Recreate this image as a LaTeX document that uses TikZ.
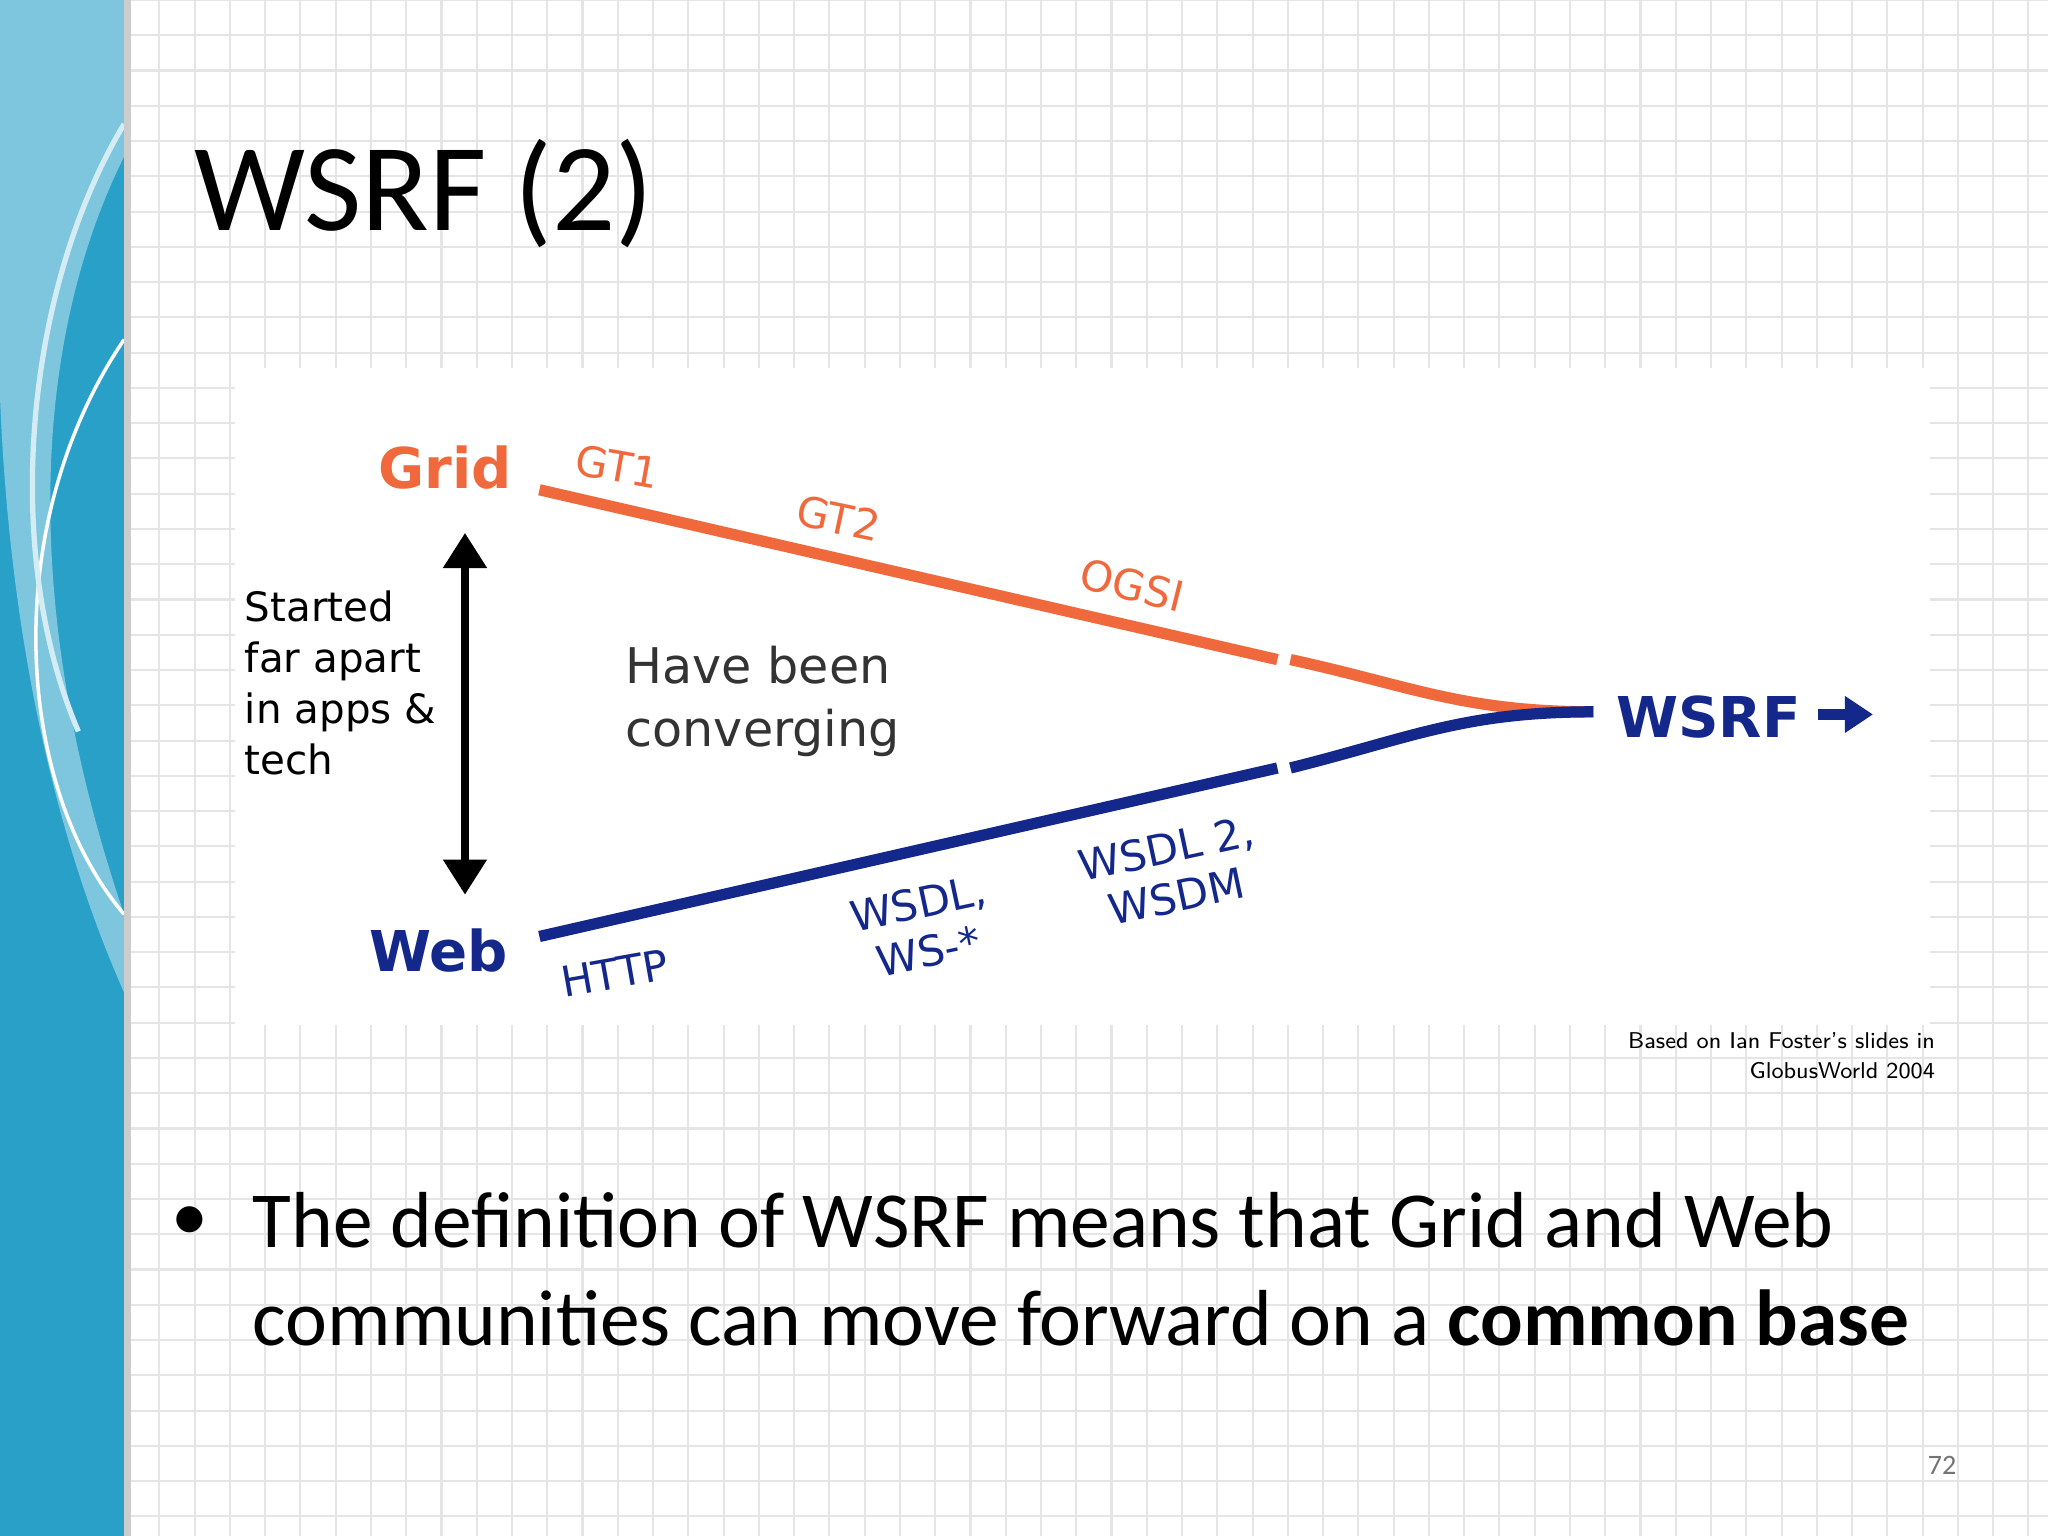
\documentclass[tikz,border=0pt]{standalone}
\usepackage{fontspec}
\setmainfont{Carlito}
\newfontfamily\vf{DejaVu Sans}
\usetikzlibrary{arrows.meta}
\definecolor{gridor}{RGB}{240,105,60}
\definecolor{webbl}{RGB}{20,40,140}
\definecolor{band}{RGB}{40,160,200}
\tikzset{lbl/.style={font=\vf\fontsize{12}{14}\selectfont,inner sep=0pt}}
\begin{document}
\begin{tikzpicture}[x=0.01306cm,y=-0.01306cm]
\useasboundingbox (0,0) rectangle (1568,1176);
\fill[white] (0,0) rectangle (1568,1176);
\foreach \i in {0,...,58} {\draw[black!10,line width=0.6pt] (95+\i*27,0) -- (95+\i*27,1176);}
\foreach \i in {0,...,44} {\draw[black!10,line width=0.6pt] (95,\i*27) -- (1568,\i*27);}
\fill[band] (0,0) rectangle (95,1176);
\fill[band!60!white] (0,0) -- (95,0) -- (95,120) .. controls (30,250) and (10,450) .. (95,700) -- (95,760) .. controls (-20,500) and (0,200) .. (0,150) -- cycle;
\draw[white,line width=1pt] (95,260) .. controls (0,400) and (10,600) .. (95,700);
\draw[white!80!band,line width=1.5pt] (95,95) .. controls (20,220) and (0,420) .. (60,560);
\fill[black!20] (95,0) rectangle (100,1176);
\fill[white] (180,282) rectangle (1478,785);
\node[anchor=west,inner sep=0pt,font=\fontsize{35.5}{40}\selectfont] (title) at (148,148) {WSRF (2)};
% lines
\draw[gridor,line width=3.2pt] (413,375) -- (978,505);
\draw[gridor,line width=3.2pt] (988,505) .. controls (1080,525) and (1120,545) .. (1220,545);
\draw[webbl,line width=3.2pt] (413,717) -- (978,588);
\draw[webbl,line width=3.2pt] (988,588) .. controls (1080,565) and (1120,545) .. (1220,545);
\node[lbl,font=\vf\bfseries\fontsize{16}{18}\selectfont,text=gridor] (grid) at (341,358) {Grid};
\node[lbl,font=\vf\bfseries\fontsize{16}{18}\selectfont,text=webbl] (web) at (336,728) {Web};
\node[lbl,font=\vf\bfseries\fontsize{16}{18}\selectfont,text=webbl,anchor=west] (wsrf) at (1237,549) {WSRF};
\draw[webbl,line width=3pt,-{Triangle[length=8pt,width=10pt]}] (1392,547) -- (1434,547);
\node[lbl,text=gridor,rotate=-10] (gt1) at (473,357) {GT1};
\node[lbl,text=gridor,rotate=-12] (gt2) at (642,397) {GT2};
\node[lbl,text=gridor,rotate=-14] (ogsi) at (867,448) {OGSI};
\node[lbl,text=webbl,rotate=10] (http) at (471,745) {HTTP};
\node[lbl,text=webbl,rotate=12,align=center] (wsdl) at (707,710) {WSDL,\\WS-*};
\node[lbl,text=webbl,rotate=12,align=center] (wsdl2) at (897,668) {WSDL 2,\\WSDM};
\node[lbl,font=\vf\fontsize{11.5}{14.5}\selectfont,align=left,anchor=north west] (start) at (187,452) {Started\\far apart\\in apps \&\\tech};
\coordinate (top) at (356,408);
\coordinate (bot) at (356,685);
\draw[line width=2.2pt,{Triangle[length=10pt,width=12pt]}-{Triangle[length=10pt,width=12pt]}] (top) -- (bot);
\node[lbl,font=\vf\fontsize{14}{18}\selectfont,align=left,text=black!80] (conv) at (584,537) {Have been\\converging};
\node[font=\sffamily\fontsize{6.5}{8.5}\selectfont,align=right,anchor=north east,inner sep=0pt] (based) at (1482,790) {Based on Ian Foster's slides in\\GlobusWorld 2004};
\node[anchor=north west,inner sep=0pt,align=left,font=\fontsize{22.6}{28}\selectfont] (bul) at (193,912) {The definition of WSRF means that Grid and Web\\communities can move forward on a \textbf{common base}};
\node[inner sep=0pt,font=\fontsize{21}{25}\selectfont] (dot) at (145,937) {•};
\node[text=black!55,font=\fontsize{8}{10}\selectfont] (pg) at (1487,1122) {72};
\end{tikzpicture}
\end{document}
